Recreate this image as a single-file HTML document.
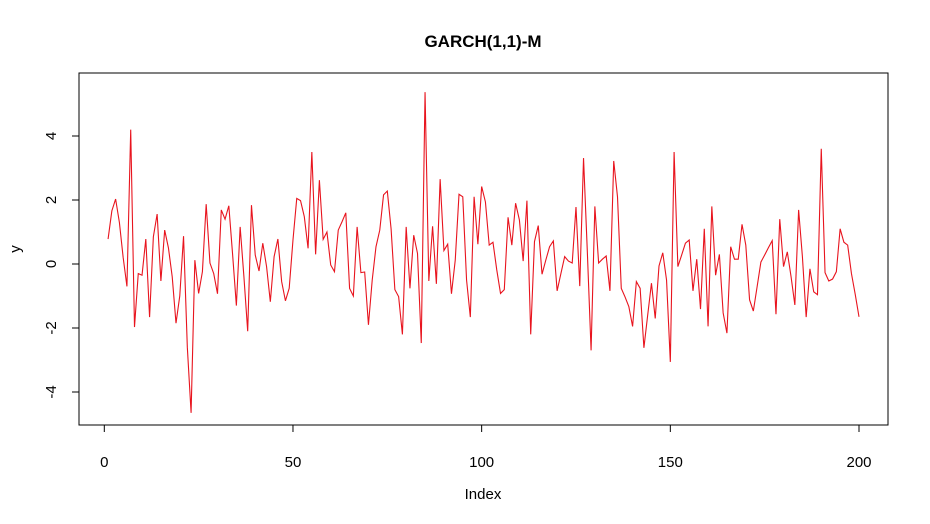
<!DOCTYPE html>
<html><head><meta charset="utf-8"><style>
body{margin:0;background:#fff;}
svg{display:block;font-family:"Liberation Sans",Arial,sans-serif;}
</style></head><body>
<svg id="chart" width="930" height="524" viewBox="0 0 930 524" xmlns="http://www.w3.org/2000/svg">
<rect width="930" height="524" fill="#fff"/>
<text x="483" y="47" text-anchor="middle" font-size="17" font-weight="bold">GARCH(1,1)-M</text>
<rect x="79" y="73" width="809" height="352" fill="none" stroke="#000" stroke-width="1"/>
<g id="xaxis"></g>
<g id="yaxis"></g>
<text x="483" y="499" text-anchor="middle" font-size="15">Index</text>
<text x="20" y="249" text-anchor="middle" font-size="15" transform="rotate(-90 20 249)">y</text>
<polyline id="series" fill="none" stroke="#e8141e" stroke-width="1.1"/>
</svg>
<script>
const xTicks = [0, 50, 100, 150, 200];
const yTicks = [-4, -2, 0, 2, 4];
const yValues = [0.78,1.66,2.03,1.3,0.2,-0.7,4.2,-1.97,-0.3,-0.35,
0.78,-1.66,0.85,1.56,-0.53,1.06,0.5,-0.4,-1.85,-1.0,
0.87,-2.6,-4.65,0.12,-0.92,-0.24,1.87,0.03,-0.3,-0.93,
1.69,1.4,1.82,0.3,-1.3,1.16,-0.4,-2.1,1.84,0.28,
-0.22,0.65,-0.08,-1.18,0.23,0.78,-0.55,-1.15,-0.76,0.75,
2.05,1.98,1.48,0.49,3.5,0.3,2.62,0.77,1.0,-0.03,
-0.24,1.06,1.32,1.6,-0.76,-1.0,1.16,-0.27,-0.25,-1.9,
-0.5,0.54,1.06,2.16,2.28,1.1,-0.8,-1.02,-2.2,1.16,
-0.76,0.9,0.33,-2.47,5.37,-0.53,1.18,-0.62,2.65,0.42,
0.62,-0.93,0.12,2.18,2.1,-0.5,-1.66,2.1,0.62,2.42,
1.94,0.59,0.68,-0.18,-0.92,-0.8,1.46,0.59,1.9,1.38,
0.09,1.98,-2.2,0.7,1.2,-0.32,0.12,0.54,0.72,-0.84,
-0.3,0.23,0.09,0.03,1.78,-0.69,3.31,0.4,-2.7,1.8,
0.03,0.15,0.25,-0.84,3.22,2.1,-0.76,-1.03,-1.33,-1.95,
-0.55,-0.76,-2.62,-1.6,-0.6,-1.7,-0.06,0.35,-0.5,-3.06,
3.5,-0.08,0.28,0.65,0.75,-0.84,0.15,-1.41,1.1,-1.95,
1.8,-0.35,0.3,-1.53,-2.16,0.54,0.15,0.15,1.24,0.59,
-1.12,-1.47,-0.71,0.06,0.28,0.51,0.73,-1.57,1.4,-0.08,
0.38,-0.4,-1.28,1.69,0.23,-1.66,-0.15,-0.87,-0.96,3.6,
-0.27,-0.53,-0.47,-0.24,1.1,0.68,0.59,-0.3,-0.95,-1.65];
const NS = "http://www.w3.org/2000/svg";
function xScale(i){ return 104.3 + (i - 0) * (754.7/200); }
function yScale(v){ return 264 - v * 32; }
const xa = document.getElementById('xaxis');
const ya = document.getElementById('yaxis');
function mk(tag, attrs, parent){ const e=document.createElementNS(NS,tag); for(const k in attrs) e.setAttribute(k,attrs[k]); parent.appendChild(e); return e; }
mk('line',{x1:xScale(xTicks[0]),x2:xScale(xTicks[xTicks.length-1]),y1:425,y2:425,stroke:'#000'},xa);
xTicks.forEach(t=>{
  const l=mk('line',{x1:xScale(t),x2:xScale(t),y1:425,y2:432,stroke:'#000'},xa);
  
  
  const tx=mk('text',{x:xScale(t),y:467,'text-anchor':'middle','font-size':15},xa);
  
  
  tx.textContent=t;
});
mk('line',{x1:79,x2:79,y1:yScale(yTicks[0]),y2:yScale(yTicks[yTicks.length-1]),stroke:'#000'},ya);
yTicks.forEach(t=>{
  const y=yScale(t);
  const l=mk('line',{x1:72,x2:79,y1:y,y2:y,stroke:'#000'},ya);
  
  
  const tx=mk('text',{x:56,y:y,'text-anchor':'middle','font-size':15,transform:'rotate(-90 56 '+y+')'},ya);
  
  
  tx.textContent=t;
});
document.getElementById('series').setAttribute('points', yValues.map((v,i)=>xScale(i+1).toFixed(2)+','+yScale(v).toFixed(2)).join(' '));
</script>
</body></html>
